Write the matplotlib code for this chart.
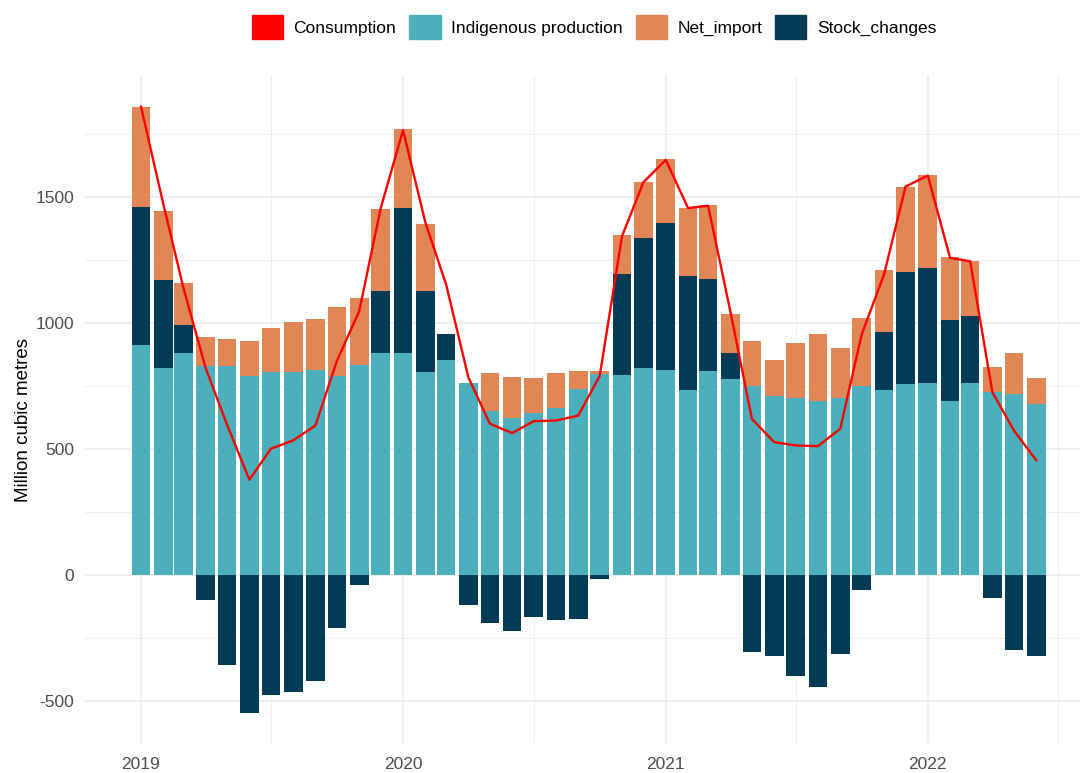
import matplotlib
matplotlib.use("Agg")
import matplotlib.pyplot as plt
from matplotlib.patches import Patch
import numpy as np
import pandas as pd

# monthly gas balance, Jan 2019 - Jun 2022 (million cubic metres)
months = pd.date_range("2019-01-01", "2022-06-01", freq="MS")

production = [913, 823, 880, 829, 829, 790, 804, 804, 813, 790, 834, 880,
              880, 804, 852, 762, 652, 623, 643, 663, 739, 798, 794, 820,
              814, 734, 809, 776, 748, 709, 704, 692, 704, 748, 734, 756,
              762, 692, 762, 725, 718, 677]

stock_changes = [547, 347, 111, -101, -357, -548, -477, -464, -420, -211, -40, 248,
                 575, 324, 105, -120, -191, -221, -167, -179, -173, -16, 400, 516,
                 584, 451, 366, 104, -306, -320, -400, -444, -315, -59, 232, 447,
                 455, 321, 266, -92, -296, -320]

net_import = [398, 275, 168, 117, 108, 138, 175, 200, 204, 275, 264, 323,
              313, 264, 0, 0, 148, 161, 137, 137, 70, 11, 156, 223,
              252, 270, 293, 157, 180, 144, 218, 263, 195, 270, 243, 338,
              371, 248, 218, 102, 162, 103]

consumption = [1858, 1473, 1140, 822, 595, 378, 501, 534, 593, 850, 1047, 1456,
               1765, 1400, 1153, 784, 600, 563, 610, 613, 632, 790, 1344, 1559,
               1647, 1456, 1465, 1045, 619, 527, 514, 511, 580, 955, 1192, 1541,
               1585, 1258, 1245, 725, 573, 455]

years = [2019, 2020, 2021, 2022]

teal = "#4BB0BC"
orange = "#E18757"
navy = "#033B55"
red = "#FF0000"

plt.rcParams["font.family"] = ["Liberation Sans", "DejaVu Sans"]
plt.rcParams["axes.unicode_minus"] = False

fig = plt.figure(figsize=(10.81, 7.73), dpi=100)
ax = fig.add_axes([85 / 1081, (773 - 743) / 773, (1080 - 85) / 1081, (743 - 75) / 773])

prod = np.array(production)
stock = np.array(stock_changes)
imp = np.array(net_import)
stock_pos = np.clip(stock, 0, None)
stock_neg = np.clip(stock, None, 0)

w = 26  # bar width in days
ax.bar(months, prod, width=w, color=teal, zorder=2)
ax.bar(months, stock_pos, bottom=prod, width=w, color=navy, zorder=2)
ax.bar(months, imp, bottom=prod + stock_pos, width=w, color=orange, zorder=2)
ax.bar(months, stock_neg, width=w, color=navy, zorder=2)
ax.plot(months, consumption, color=red, lw=1.7, zorder=3)

start = pd.Timestamp("2019-01-01")
ax.set_xlim(start - pd.Timedelta(days=78), start + pd.Timedelta(days=1308))
ax.set_ylim(-667, 1984)

ax.set_xticks([pd.Timestamp(f"{y}-01-01") for y in years])
ax.set_xticklabels([str(y) for y in years])
ax.set_xticks([pd.Timestamp(f"{y}-07-01") for y in years], minor=True)
ax.set_yticks([-500, 0, 500, 1000, 1500])
ax.set_yticklabels(["-500", "0", "500", "1000", "1500"])
ax.set_yticks([-250, 250, 750, 1250, 1750], minor=True)

ax.grid(which="major", color="#EBEBEB", lw=1.1, zorder=0)
ax.grid(which="minor", color="#EBEBEB", lw=0.6, zorder=0)
ax.set_axisbelow(True)
ax.tick_params(which="both", length=0, colors="#4D4D4D", labelsize=12.5)
ax.tick_params(axis="y", pad=8)
ax.tick_params(axis="x", pad=10)
for s in ax.spines.values():
    s.set_visible(False)

ax.set_ylabel("Million cubic metres", fontsize=13.5, color="black")
ax.yaxis.set_label_coords(-0.053, 0.484)

handles = [Patch(color=red), Patch(color=teal), Patch(color=orange), Patch(color=navy)]
labels = ["Consumption", "Indigenous production", "Net_import", "Stock_changes"]
fig.legend(handles, labels, loc="upper center", bbox_to_anchor=(594 / 1081, 1.0),
           ncol=4, frameon=False, fontsize=12.5, handlelength=1.8, handleheight=1.8,
           handletextpad=0.6, columnspacing=0.75, borderpad=0.35)

fig.savefig("out.png", dpi=100)
